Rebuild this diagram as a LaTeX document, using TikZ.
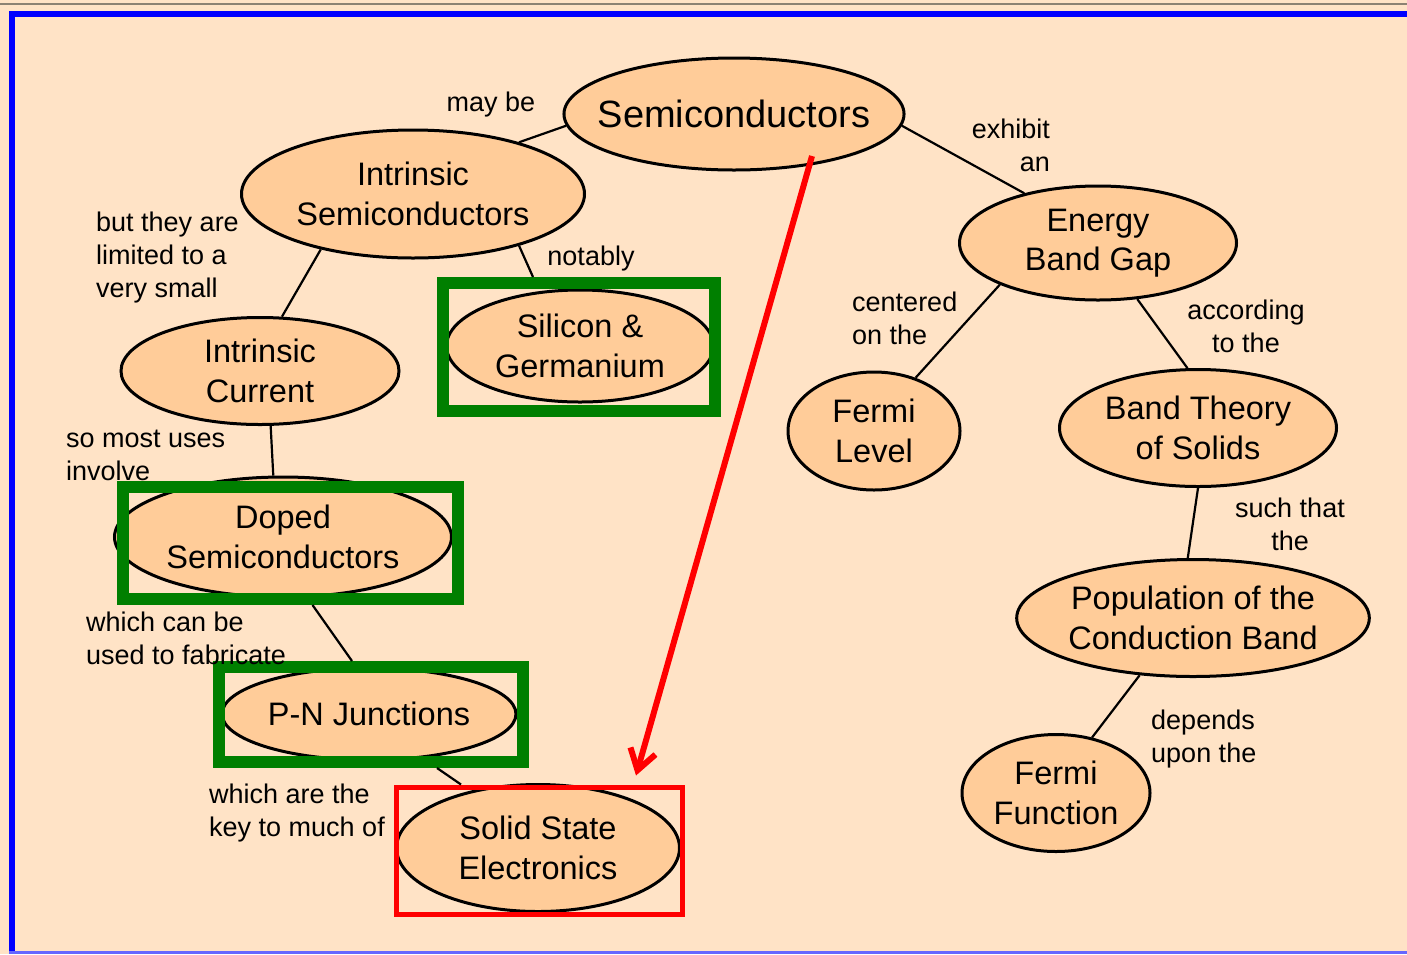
\documentclass[tikz,border=0pt]{standalone}
\usepackage{fontspec}
\setmainfont{Liberation Sans}
\usepackage{tikz}
\usetikzlibrary{calc}
\usetikzlibrary{shapes.geometric,arrows.meta}
\definecolor{bgpeach}{HTML}{FFE3C6}
\definecolor{conceptfill}{HTML}{FFCC99}
\definecolor{framegray}{HTML}{8C8273}
\definecolor{markgreen}{HTML}{007F00}
\tikzstyle{concept}=
[ellipse,draw=black,line width=3pt,fill=conceptfill,inner sep=0pt,
align=center,font=\fontsize{32.5}{39.5}\selectfont]
\tikzstyle{linktext}=
[inner sep=0pt,font=\fontsize{27}{33}\selectfont]
\tikzstyle{link}=
[line width=2.2pt]
\tikzstyle{greenbox}=
[rectangle,draw=markgreen,line width=12pt,inner sep=0pt]
\tikzstyle{redbox}=
[rectangle,draw=red,line width=5pt,inner sep=0pt]
\tikzstyle{arrow}=
[line width=6pt,draw=red,-{Straight Barb[length=20pt,width=26pt]}]

\begin{document}
\begin{tikzpicture}[x=1pt,y=-1pt]
% background and frame
\fill[bgpeach] (0,0) rectangle (1407,954);
\useasboundingbox (0,0) rectangle (1407,954);
\draw[framegray,line width=2pt] (0,4)--(1407,4);
\draw[blue,line width=6pt] (9,14)--(1407,14);
\draw[blue,line width=6pt] (12,11)--(12,954);
\draw[blue!60,line width=2.5pt] (9,952.5)--(1407,952.5);

% concepts
\node (sc) [concept,minimum width=338,minimum height=112,inner xsep=-16pt,
font=\fontsize{38}{44}\selectfont] at (734,114) {Semiconductors};
\node (is) [concept,minimum width=343,minimum height=128]
at (413,194) {Intrinsic\\Semiconductors};
\node (ic) [concept,minimum width=278,minimum height=107]
at (260,371) {Intrinsic\\Current};
\node (si) [concept,minimum width=267,minimum height=112]
at (580,346) {Silicon \&\\Germanium};
\node (ds) [concept,minimum width=337,minimum height=120]
at (283,537) {Doped\\Semiconductors};
\node (pn) [concept,minimum width=294,minimum height=92]
at (369,714) {P-N Junctions};
\node (sse) [concept,minimum width=283,minimum height=127]
at (538,848) {Solid State\\Electronics};
\node (eg) [concept,minimum width=277,minimum height=114]
at (1098,243) {Energy\\Band Gap};
\node (fl) [concept,minimum width=172,minimum height=118]
at (874,431) {Fermi\\Level};
\node (bt) [concept,minimum width=277,minimum height=117]
at (1198,428) {Band Theory\\of Solids};
\node (pop) [concept,minimum width=347,minimum height=117]
at (1193,618) {Population of the\\Conduction Band};
\node (ff) [concept,minimum width=188,minimum height=117]
at (1056,793) {Fermi\\Function};

% highlight boxes
\node (si-box) [greenbox,minimum width=272,minimum height=128] at (579,347) {};
\node (ds-box) [greenbox,minimum width=335,minimum height=112] at (290.5,543) {};
\node (pn-box) [greenbox,minimum width=304,minimum height=95] at (371,714.5) {};
\node (sse-box) [redbox,minimum width=286,minimum height=127] at (539,850.5) {};

% links
\draw[link] (sc.184)--(is.26);
\draw[link] (sc.356)--(eg.146);
\draw[link] (is.211)--(ic.68);
\draw[link] (is.334)--($(si-box.north)+(-46,0)$);
\draw[link] (ic.281)--(ds.99);
\draw[link] ($(ds-box.south)+(22,0)$)--($(pn-box.north)+(-19,0)$);
\draw[link] ($(pn-box.south)+(66,0)$)--($(sse-box.north)+(-78,0)$);
\draw[link] (eg.203)--(fl.52);
\draw[link] (eg.305)--(bt.100);
\draw[link] (bt.270)--(pop.95);
\draw[link] (pop.227)--(ff.57);

% link labels
\node (lbl-maybe) [linktext] at (491,105) {may be};
\node (lbl-exhibit) [linktext,align=right,anchor=east] at (1050,145) {exhibit\\an};
\node (lbl-limited) [linktext,align=left,anchor=west] at (96,258) {but they are\\limited to a\\very small};
\node (lbl-notably) [linktext] at (591,259) {notably};
\node (lbl-uses) [linktext,align=left,anchor=west] at (66,455) {so most uses\\involve};
\node (lbl-fabricate) [linktext,align=left,anchor=west] at (86,638) {which can be\\used to fabricate};
\node (lbl-key) [linktext,align=left,anchor=west] at (209,813) {which are the\\key to much of};
\node (lbl-centered) [linktext,align=left,anchor=west] at (852,318) {centered\\on the};
\node (lbl-according) [linktext,align=center] at (1246,326) {according\\to the};
\node (lbl-such) [linktext,align=center] at (1290,524) {such that\\the};
\node (lbl-depends) [linktext,align=left,anchor=west] at (1151,739) {depends\\upon the};

% red pointer
\coordinate (arrow-start) at ($(sc)+(78,42)$);
\coordinate (arrow-end) at ($(sse-box.north)+(97,-9)$);
\draw[arrow] (arrow-start)--(arrow-end);
\end{tikzpicture}
\end{document}
